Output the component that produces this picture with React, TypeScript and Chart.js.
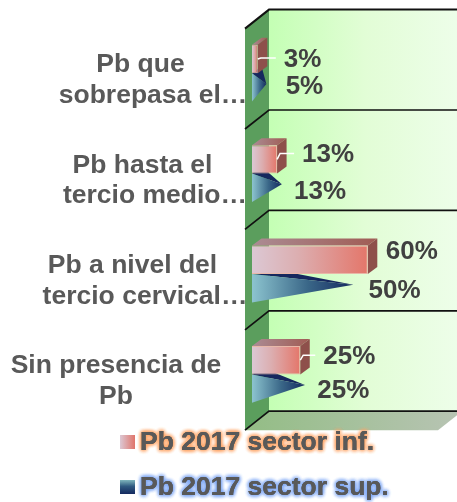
import React, { useEffect, useRef } from "react";
import { Chart, registerables } from "chart.js";

Chart.register(...registerables);

const categories = [
  ["Pb que", "sobrepasa el…"],
  ["Pb hasta el", "tercio medio…"],
  ["Pb a nivel del", "tercio cervical…"],
  ["Sin presencia de", "Pb"],
];
const seriesInfName = "Pb 2017 sector inf.";
const seriesSupName = "Pb 2017 sector sup.";
const seriesInf = [3, 13, 60, 25];
const seriesSup = [5, 13, 50, 25];

// layout of the pseudo-3D frame
const PLOT = { left: 252, right: 445, top: 23, bottom: 424.6 };
const WALL_FRONT = { dx: -7, dy: 5.6 };
const WALL_BACK = { dx: 17, dy: -13.4 };
const BAR_DEPTH = { dx: 9.5, dy: -7 };
const labelCenterX = [
  [140.5, 153],
  [142.5, 155],
  [132.5, 145],
  [116, 116],
];
const labelShift = [
  [[26, -1], [25, -6], [18, -9], [23, -5]],
  [[24, -2], [17, 3], [20, 1], [17, 1]],
];
const leaders = [true, true, false, true];
const FONT = "'Liberation Sans', Arial, sans-serif";

function poly(ctx: CanvasRenderingContext2D, pts: number[][], fill: any) {
  ctx.beginPath();
  pts.forEach((p, i) => (i ? ctx.lineTo(p[0], p[1]) : ctx.moveTo(p[0], p[1])));
  ctx.closePath();
  ctx.fillStyle = fill;
  ctx.fill();
}

const frame3d = {
  id: "frame3d",
  beforeDatasetsDraw(chart: any) {
    const { ctx, chartArea: a, scales } = chart;
    const fx = a.left + WALL_FRONT.dx;
    const rx = a.right + WALL_FRONT.dx;
    const bx = a.left + WALL_BACK.dx;
    const brx = a.right + WALL_BACK.dx;
    const top = a.top, bottom = a.bottom;
    ctx.save();
    const wall = ctx.createLinearGradient(bx, 0, brx, 0);
    wall.addColorStop(0, "#c4ffb4");
    wall.addColorStop(0.5, "#e2fdd6");
    wall.addColorStop(1, "#eefeea");
    poly(ctx, [[bx, top + WALL_BACK.dy], [brx, top + WALL_BACK.dy], [brx, bottom + WALL_BACK.dy], [bx, bottom + WALL_BACK.dy]], wall);
    poly(ctx, [[fx, top + WALL_FRONT.dy], [bx, top + WALL_BACK.dy], [bx, bottom + WALL_BACK.dy], [fx, bottom + WALL_FRONT.dy]], "#5b9e5d");
    const floor = ctx.createLinearGradient(fx, 0, brx, 0);
    floor.addColorStop(0, "#93bd85");
    floor.addColorStop(1, "#b8c4b4");
    poly(ctx, [[fx, bottom + WALL_FRONT.dy], [bx, bottom + WALL_BACK.dy], [brx, bottom + WALL_BACK.dy], [rx, bottom + WALL_FRONT.dy]], floor);
    const n = scales.y.getLabels().length;
    ctx.strokeStyle = "#111";
    for (let i = 0; i <= n; i++) {
      const y = top + ((bottom - top) * i) / n;
      ctx.lineWidth = i === 0 ? 2 : 1.7;
      ctx.beginPath();
      ctx.moveTo(fx, y + WALL_FRONT.dy);
      ctx.lineTo(bx, y + WALL_BACK.dy);
      ctx.lineTo(brx, y + WALL_BACK.dy);
      ctx.stroke();
    }
    ctx.restore();
  },
  afterDatasetDraw(chart: any, args: any) {
    // the "sup" series is a pyramid whose apex is the value
    if (args.index !== 1) return;
    const { ctx } = chart;
    ctx.save();
    chart.getDatasetMeta(1).data.forEach((el: any) => {
      const { x, y, base, height } = el.getProps(["x", "y", "base", "height"], true);
      const t = y - height / 2, b = y + height / 2;
      const apex = [x + BAR_DEPTH.dx / 2, y + BAR_DEPTH.dy / 2];
      poly(ctx, [[base, t], [base + BAR_DEPTH.dx, t + BAR_DEPTH.dy], apex], "#16285e");
      const g = ctx.createLinearGradient(base, 0, apex[0], 0);
      g.addColorStop(0, "#8cc4cf");
      g.addColorStop(0.55, "#3a6788");
      g.addColorStop(1, "#14295f");
      poly(ctx, [[base, t], [base, b], apex], g);
    });
    ctx.restore();
  },
  beforeDatasetDraw(chart: any, args: any) {
    // side and top faces of the "inf" series
    if (args.index !== 0) return;
    const { ctx } = chart;
    ctx.save();
    chart.getDatasetMeta(0).data.forEach((el: any) => {
      const { x, y, base, height } = el.getProps(["x", "y", "base", "height"], true);
      const t = y - height / 2, b = y + height / 2;
      const { dx, dy } = BAR_DEPTH;
      const g = ctx.createLinearGradient(base, 0, x + dx, 0);
      g.addColorStop(0, "#ab8c94");
      g.addColorStop(1, "#a05c54");
      poly(ctx, [[base, t], [base + dx, t + dy], [x + dx, t + dy], [x, t]], g);
      poly(ctx, [[x, t], [x + dx, t + dy], [x + dx, b + dy], [x, b]], "#8e504b");
    });
    ctx.restore();
  },
  afterDraw(chart: any) {
    const { ctx, scales, data } = chart;
    ctx.save();
    // category labels
    ctx.font = `bold 26.5px ${FONT}`;
    ctx.fillStyle = "#595959";
    ctx.textAlign = "center";
    ctx.textBaseline = "middle";
    (scales.y.getLabels() as string[][]).forEach((lines, i) => {
      const cy = scales.y.getPixelForTick(i) + 7;
      lines.forEach((line, k) => {
        ctx.fillText(line, labelCenterX[i][k], cy + (k - 0.5) * 30.5);
      });
    });
    // value labels and leader lines
    ctx.textAlign = "left";
    ctx.font = `bold 26px ${FONT}`;
    data.datasets.forEach((ds: any, d: number) => {
      chart.getDatasetMeta(d).data.forEach((el: any, i: number) => {
        const { x, y } = el.getProps(["x", "y"], true);
        const lx = x + labelShift[d][i][0];
        const ly = y + labelShift[d][i][1];
        if (d === 0 && leaders[i]) {
          ctx.strokeStyle = "#ffffff";
          ctx.lineWidth = 1.5;
          ctx.beginPath();
          ctx.moveTo(x, y);
          ctx.lineTo(x + 3, ly);
          ctx.lineTo(lx - 8, ly);
          ctx.stroke();
        }
        ctx.fillStyle = "#404040";
        ctx.fillText(`${ds.data[i]}%`, lx, ly + 1.5);
      });
    });
    // legend with glowing text
    const rows = [
      { y: 442, glow: "#ffa566", a: "#dcc8d4", b: "#e0746a", horiz: true },
      { y: 487, glow: "#7fa8f5", a: "#7fb6bd", b: "#14295f", horiz: false },
    ];
    ctx.font = `bold 26.5px ${FONT}`;
    rows.forEach((r, d) => {
      const g = r.horiz
        ? ctx.createLinearGradient(120, 0, 135, 0)
        : ctx.createLinearGradient(0, r.y - 7, 0, r.y + 7);
      g.addColorStop(0, r.a);
      g.addColorStop(r.horiz ? 1 : 0.45, r.horiz ? r.b : "#2f5a80");
      g.addColorStop(1, r.b);
      ctx.fillStyle = g;
      ctx.fillRect(120, r.y - 7, 15, 14);
      ctx.save();
      ctx.shadowColor = r.glow;
      ctx.shadowBlur = 4;
      ctx.fillStyle = "#595959";
      for (let k = 0; k < 4; k++) ctx.fillText(data.datasets[d].label, 140, r.y + 1);
      ctx.restore();
      ctx.fillStyle = "#595959";
      ctx.fillText(data.datasets[d].label, 140, r.y + 1);
    });
    ctx.restore();
  },
};

export default function App() {
  const ref = useRef<HTMLCanvasElement>(null);
  useEffect(() => {
    const chart = new Chart(ref.current as HTMLCanvasElement, {
      type: "bar",
      data: {
        labels: categories as any,
        datasets: [
          {
            label: seriesInfName,
            data: seriesInf,
            categoryPercentage: 0.566,
            barPercentage: 1,
            backgroundColor: (c: any) => {
              const g = c.chart.ctx.createLinearGradient(PLOT.left, 0, PLOT.left + (c.raw ?? 0) * 1.93, 0);
              g.addColorStop(0, "#dcc8d4");
              g.addColorStop(0.4, "#dcaeb0");
              g.addColorStop(1, "#e4766a");
              return g;
            },
            borderColor: "#e8b8a8",
            borderWidth: 1,
          },
          {
            label: seriesSupName,
            data: seriesSup,
            categoryPercentage: 0.566,
            barPercentage: 1,
            backgroundColor: "rgba(0,0,0,0)",
            borderWidth: 0,
          },
        ],
      },
      options: {
        indexAxis: "y",
        responsive: false,
        animation: false,
        layout: {
          padding: {
            left: PLOT.left,
            right: 457 - PLOT.right,
            top: PLOT.top,
            bottom: 502 - PLOT.bottom,
          },
        },
        scales: {
          x: { display: false, min: 0, max: 100 },
          y: { display: false },
        },
        plugins: { legend: { display: false }, tooltip: { enabled: false } },
      } as any,
      plugins: [frame3d],
    });
    return () => chart.destroy();
  }, []);
  return (
    <div style={{ position: "absolute", left: 0, top: 0, width: 457, height: 502, background: "#fff" }}>
      <canvas ref={ref} width={457} height={502} style={{ display: "block" }} />
    </div>
  );
}
